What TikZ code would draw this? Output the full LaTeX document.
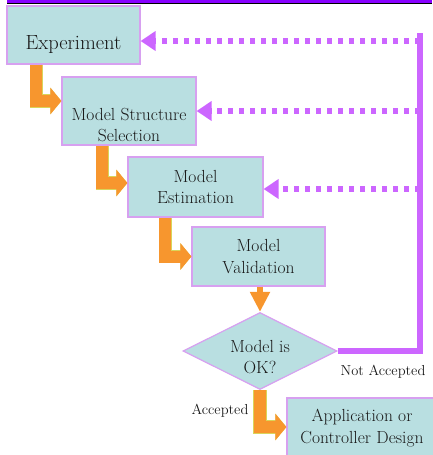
\documentclass[tikz,border=0pt]{standalone}
\usepackage{tikz}
\usetikzlibrary{shapes.geometric,arrows.meta}

\definecolor{boxfill}{RGB}{185,223,225}
\definecolor{boxline}{RGB}{215,160,240}
\definecolor{flowcol}{RGB}{247,150,46}
\definecolor{flowedge}{RGB}{218,212,90}
\definecolor{backcol}{RGB}{204,102,255}
\definecolor{barcol}{RGB}{136,0,255}

\begin{document}
\begin{tikzpicture}[x=1pt,y=-1pt,
    every node/.style={font=\fontsize{17.5}{21.5}\selectfont, text=black!90},
    box/.style={draw=boxline, fill=boxfill, line width=1.2pt, align=center},
    decision/.style={diamond, draw=boxline, fill=boxfill, line width=1.2pt, aspect=2},
    flow/.style={draw=flowcol, line width=12pt, -{Triangle[width=26pt,length=11pt]},
        preaction={draw=flowedge, line width=13.5pt}},
    backline/.style={draw=backcol, line width=6pt},
    backdot/.style={draw=backcol, line width=6pt, dash pattern=on 5.5pt off 5.5pt,
        -{Triangle[width=19pt,length=15pt]}},
    note/.style={font=\fontsize{14.5}{17}\selectfont}]
    \useasboundingbox (0,0) rectangle (432,455);

    % top bar
    \fill[barcol] (7,0) rectangle (432,2.5);
    \fill[black] (7,2.5) rectangle (432,4.3);

    % blocks
    \node (exp) at (73.5,35)   [box, minimum width=133pt, minimum height=58pt] {};
    \node (exptxt) at (73.5,45) [font=\fontsize{20.5}{24}\selectfont] {Experiment};
    \node (mss) at (129,111)   [box, minimum width=134pt, minimum height=68pt] {};
    \node (msstxt) at (129,125) [align=center] {Model Structure\\Selection};
    \node (est) at (195.5,187) [box, minimum width=135pt, minimum height=60pt] {Model\\Estimation};
    \node (val) at (258.5,256.5) [box, minimum width=133pt, minimum height=59pt] {Model\\Validation};
    \node (dia) at (260,351)   [decision, minimum width=154pt, minimum height=77pt] {};
    \node (diatxt) at (260,357) [align=center] {Model is\\OK?};
    \node (app) at (362,428)   [box, minimum width=150pt, minimum height=60pt] {Application or\\Controller Design};

    \node (nacc) at (383,372) [note] {Not Accepted};
    \node (acc) at (220,411) [note] {Accepted};

    % forward path
    \draw[flow] ([xshift=30pt]exp.south west) |- ([yshift=10pt]mss.west);
    \draw[flow] ([xshift=41pt]mss.south west) |- ([yshift=4pt]est.west);
    \draw[flow] ([xshift=38pt]est.south west) |- (val.west);
    \draw[draw=flowcol, line width=6pt, -{Triangle[width=19pt,length=20pt]}]
        (val.south -| dia.north) -- (dia.north);
    \draw[flow] (dia.south) |- ([yshift=1pt]app.west);

    % feedback
    \coordinate (loop) at (420,33);
    \coordinate (expin) at ([yshift=-6pt]exp.east);
    \draw[backline] (dia.east) -| (loop);
    \draw[backdot] (expin -| loop) -- (expin);
    \draw[backdot] (mss.east -| loop) -- (mss.east);
    \draw[backdot] ([yshift=-2pt]est.east -| loop) -- ([yshift=-2pt]est.east);
\end{tikzpicture}
\end{document}
